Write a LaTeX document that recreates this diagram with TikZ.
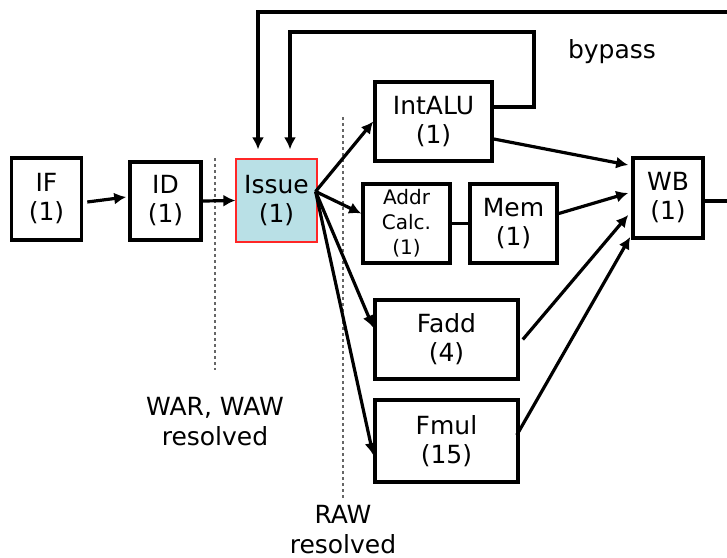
\documentclass[tikz,border=0pt]{standalone}
\usepackage{fontspec}
\setmainfont{DejaVu Sans}
\usepackage{tikz}
\usetikzlibrary{calc,arrows.meta}
\definecolor{issuefill}{RGB}{185,224,230}
\tikzset{
	stage/.style={draw, line width=1.8pt, align=center, inner sep=0pt, font=\fontsize{12.5}{14.5}\selectfont},
	flow/.style={line width=1.6pt, -{Latex[length=6pt,width=6pt]}},
	wire/.style={line width=1.6pt},
	border/.style={draw=gray!80!black, dash pattern=on 1.5pt off 1.5pt, line width=0.6pt},
}

\begin{document}
\begin{tikzpicture}[x=0.5pt,y=-0.5pt]
			% page size in pixels of the reference
			\useasboundingbox (0,0) rectangle (727,557);
			\clip (0,0) rectangle (727,557);
			
			% pipeline stages
			\node[stage, minimum width=35pt, minimum height=41pt] (IF) at (46.5,199) {IF\\(1)};
			\node[stage, minimum width=35.5pt, minimum height=39pt] (ID) at (165.5,201) {ID\\(1)};
			\node[stage, draw=red!85, line width=0.6pt, fill=issuefill, minimum width=40.5pt, minimum height=41.5pt] (Issue) at (276.5,200.5) {Issue\\(1)};
			\node[stage, minimum width=58.5pt, minimum height=39.5pt] (IntALU) at (433.5,121.5) {IntALU\\(1)};
			\node[stage, font=\fontsize{10}{12.5}\selectfont, minimum width=43.5pt, minimum height=39.5pt] (Addr) at (406.5,223.5) {Addr\\Calc.\\(1)};
			\node[stage, minimum width=43.5pt, minimum height=39.5pt] (Mem) at (513.5,223.5) {Mem\\(1)};
			\node[stage, minimum width=71.5pt, minimum height=39.5pt] (Fadd) at (446.5,339.5) {Fadd\\(4)};
			\node[stage, minimum width=71.5pt, minimum height=41pt] (Fmul) at (446.5,441) {Fmul\\(15)};
			\node[stage, minimum width=35pt, minimum height=40pt] (WB) at (668,198) {WB\\(1)};
			
			% hazard borders
			\coordinate (warTop) at (215,158);
			\coordinate (warBot) at (215,370);
			\coordinate (rawTop) at (343,117);
			\coordinate (rawBot) at (343,500);
			\draw[border] (warTop) -- (warBot);
			\draw[border] (rawTop) -- (rawBot);
			
			% front end
			\draw[flow] ($(IF.east)+(4,3)$) -- ($(ID.west)+(-2,-4)$);
			\draw[flow] (ID.east) -- (Issue.west);
			
			% issue to the units
			\coordinate (fan) at ($(Issue.east)+(-2,-9)$);
			\draw[flow] (fan) -- (IntALU.west);
			\draw[flow] (fan) -- ($(Addr.west)+(0,-10)$);
			\draw[flow] (fan) -- ($(Fadd.west)+(0,-12)$);
			\draw[flow] (fan) -- ($(Fmul.west)+(0,14)$);
			\draw[wire] (Addr.east) -- (Mem.west);
			
			% units to write back
			\draw[flow] ($(IntALU.east)+(0,17.5)$) -- ($(WB.west)+(-3,-33)$);
			\draw[flow] ($(Mem.east)+(0,-10)$) -- ($(WB.west)+(-3,-5)$);
			\draw[flow] ($(Fadd.east)+(3,0)$) -- ($(WB.west)+(-3,17)$);
			\draw[flow] ($(Fmul.east)+(-3,-6)$) -- ($(WB.west)+(-1,39)$);
			
			% bypass and write back loops
			\coordinate (byp) at (534,32);
			\coordinate (loop) at (732,12);
			\draw[flow] ($(IntALU.east)+(0,-14.5)$) -| (byp) -| ($(Issue.north)+(13.5,-9)$);
			\draw[flow] ($(WB.east)+(0,3)$) -| (loop) -| ($(Issue.north)+(-18.5,-9)$);
			
			% labels
			\node[font=\fontsize{12.5}{14.5}\selectfont] (bypass) at (612,52) {bypass};
			\node[align=center, font=\fontsize{12.5}{15}\selectfont] (war) at (215,422) {WAR, WAW\\resolved};
			\node[align=center, font=\fontsize{12.5}{15}\selectfont] (raw) at (343,530) {RAW\\resolved};
			
\end{tikzpicture}
\end{document}
